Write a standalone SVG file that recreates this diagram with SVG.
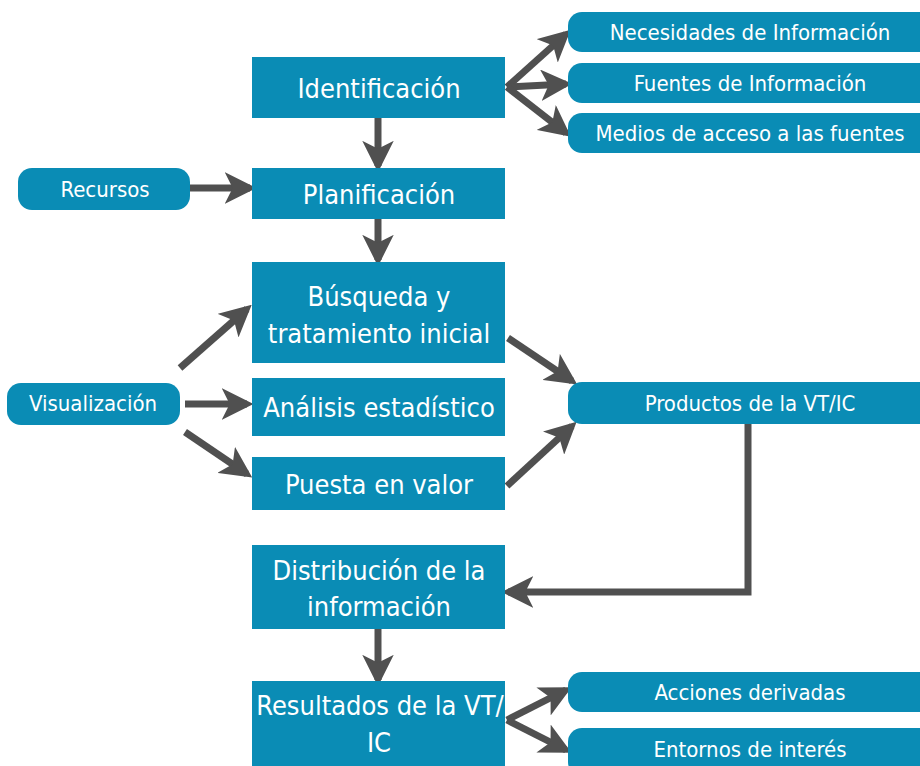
<svg xmlns="http://www.w3.org/2000/svg" width="920" height="766" viewBox="0 0 920 766">
<defs>
<style>
.box{fill:#0a8cb5}
.t{font-family:"Liberation Sans Narrow","DejaVu Sans Condensed","Liberation Sans",sans-serif;fill:#fff;text-anchor:middle}
.big{font-size:27px}
.sm{font-size:22px}
.c{stroke:#505050;stroke-width:7;fill:none;marker-end:url(#ah)}
</style>
<marker id="ah" viewBox="0 0 10 10" refX="8" refY="5" markerWidth="4.5" markerHeight="4.5" orient="auto" markerUnits="strokeWidth">
<path d="M0,0 L10,5 L0,10 L2.5,5 z" fill="#505050"/>
</marker>
</defs>
<rect width="920" height="766" fill="#fff"/>
<g id="connectors">
<line class="c" x1="378" y1="118" x2="378" y2="166"/>
<line class="c" x1="378" y1="219" x2="378" y2="260"/>
<line class="c" x1="190" y1="188" x2="250" y2="188"/>
<line class="c" x1="507" y1="87" x2="566" y2="34"/>
<line class="c" x1="507" y1="87" x2="566" y2="84"/>
<line class="c" x1="507" y1="87" x2="566" y2="133"/>
<line class="c" x1="180" y1="368" x2="247" y2="309"/>
<line class="c" x1="185" y1="404" x2="247" y2="404"/>
<line class="c" x1="185" y1="432" x2="247" y2="474"/>
<line class="c" x1="508" y1="338" x2="572" y2="381"/>
<line class="c" x1="507" y1="486" x2="572" y2="426"/>
<polyline class="c" points="748,424 748,592 508,592"/>
<line class="c" x1="378" y1="628" x2="378" y2="680"/>
<line class="c" x1="507" y1="720" x2="566" y2="690"/>
<line class="c" x1="507" y1="720" x2="566" y2="750"/>
</g>
<g id="identificacion"><rect class="box" x="252" y="57" width="253" height="61"/><text class="t big" x="379" y="98">Identificación</text></g>
<g id="planificacion"><rect class="box" x="252" y="168" width="253" height="51"/><text class="t big" x="379" y="204">Planificación</text></g>
<g id="busqueda"><rect class="box" x="252" y="262" width="253" height="101"/><text class="t big" x="379" y="306">Búsqueda y</text><text class="t big" x="379" y="343">tratamiento inicial</text></g>
<g id="analisis"><rect class="box" x="252" y="378" width="253" height="58"/><text class="t big" x="379" y="417">Análisis estadístico</text></g>
<g id="puesta"><rect class="box" x="252" y="457" width="253" height="53"/><text class="t big" x="379" y="494">Puesta en valor</text></g>
<g id="distribucion"><rect class="box" x="252" y="545" width="253" height="84"/><text class="t big" x="379" y="580">Distribución de la</text><text class="t big" x="379" y="616">información</text></g>
<g id="resultados"><rect class="box" x="252" y="681" width="253" height="90"/><text class="t big" x="380" y="715">Resultados de la VT/</text><text class="t big" x="379" y="752">IC</text></g>
<g id="recursos"><rect class="box" x="18" y="168" width="172" height="42" rx="14"/><text class="t sm" x="105" y="197">Recursos</text></g>
<g id="visualizacion"><rect class="box" x="7" y="383" width="173" height="42" rx="14"/><text class="t sm" x="93" y="411">Visualización</text></g>
<g id="necesidades"><rect class="box" x="568" y="12" width="370" height="40" rx="14"/><text class="t sm" x="750" y="40">Necesidades de Información</text></g>
<g id="fuentes"><rect class="box" x="568" y="63" width="370" height="40" rx="14"/><text class="t sm" x="750" y="91">Fuentes de Información</text></g>
<g id="medios"><rect class="box" x="568" y="113" width="370" height="40" rx="14"/><text class="t sm" x="750" y="141">Medios de acceso a las fuentes</text></g>
<g id="productos"><rect class="box" x="568" y="382" width="370" height="42" rx="14"/><text class="t sm" x="750" y="411">Productos de la VT/IC</text></g>
<g id="acciones"><rect class="box" x="568" y="672" width="370" height="40" rx="14"/><text class="t sm" x="750" y="700">Acciones derivadas</text></g>
<g id="entornos"><rect class="box" x="568" y="728" width="370" height="48" rx="14"/><text class="t sm" x="750" y="757">Entornos de interés</text></g>
</svg>
